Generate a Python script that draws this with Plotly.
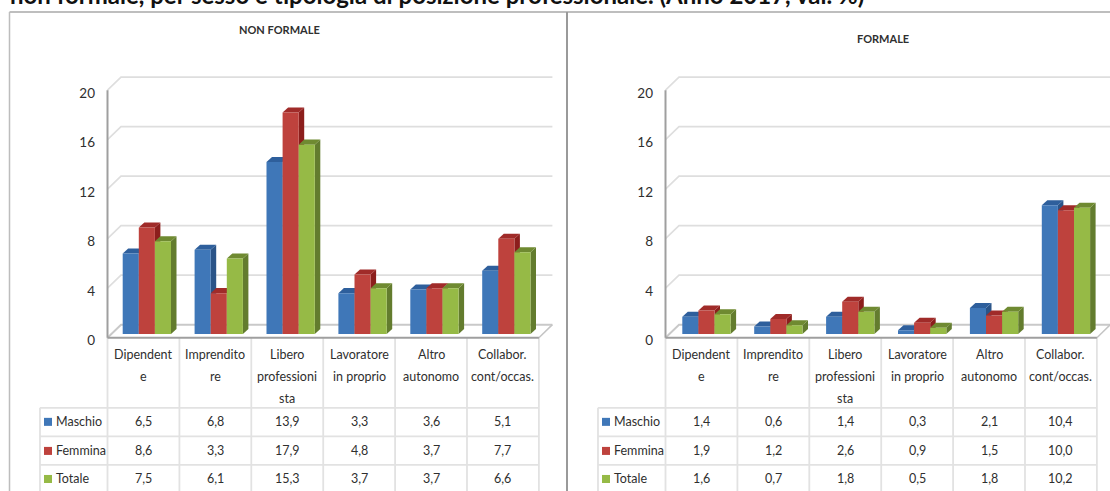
import plotly.graph_objects as go

heading = "non formale, per sesso e tipologia di posizione professionale. (Anno 2017, val. %)"
panel_titles = ["NON FORMALE", "FORMALE"]
category_lines = [["Dipendent", "e"], ["Imprendito", "re"], ["Libero", "professioni", "sta"],
                  ["Lavoratore", "in proprio"], ["Altro", "autonomo"], ["Collabor.", "cont/occas."]]
series_names = ["Maschio", "Femmina", "Totale"]
nonformale_maschio = [6.5, 6.8, 13.9, 3.3, 3.6, 5.1]
nonformale_femmina = [8.6, 3.3, 17.9, 4.8, 3.7, 7.7]
nonformale_totale = [7.5, 6.1, 15.3, 3.7, 3.7, 6.6]
formale_maschio = [1.4, 0.6, 1.4, 0.3, 2.1, 10.4]
formale_femmina = [1.9, 1.2, 2.6, 0.9, 1.5, 10.0]
formale_totale = [1.6, 0.7, 1.8, 0.5, 1.8, 10.2]
y_ticks = [0, 4, 8, 12, 16, 20]

W, H = 1110, 491
FIG_H = 497
FONT = "Lato"
HEAD_FONT = "Lato"
TXT = "#2f2f2f"
FRONT = ["#3F77B8", "#BE423D", "#96BA46"]
SIDE = ["#2A5488", "#8C1E1C", "#637C2E"]
TOP = ["#2E5F9C", "#A02B29", "#6F8A31"]
GRID = "#DEDEDE"
TABLE = "#E2E2E2"
AXIS = "#9F9F9F"
UNIT = 12.35      # px per value unit
COL = 71.9        # px per category
BACK_X, BACK_Y = 13.5, 13.0
BASE = 0.3        # bar plane sits slightly behind the front edge
BAR_W = 16.1 / COL
DX, DY = 5.5 / COL, 5 / UNIT
Y_FRONT0 = 337
ROWS = [421, 450, 478]
LINES = [407, 435.5, 464, 491]
LABEL_Y = [354, 376, 398]

panels = [
    dict(axis_x="xaxis", axis_y="yaxis", xr="x", yr="y", left=107.5, right=553, shift=3.4, title_x=279, title_y=29,
         series=[nonformale_maschio, nonformale_femmina, nonformale_totale]),
    dict(axis_x="xaxis2", axis_y="yaxis2", xr="x2", yr="y2", left=665.5, right=1110, shift=5.0, title_x=883, title_y=38,
         series=[formale_maschio, formale_femmina, formale_totale]),
]

fig = go.Figure()
shapes, annotations = [], []


def pline(x0, y0, x1, y1, color=TABLE, width=1.8):
    shapes.append(dict(type="line", xref="paper", yref="paper", x0=x0 / W, x1=x1 / W,
                       y0=1 - y0 / H, y1=1 - y1 / H, line=dict(color=color, width=width), layer="below"))


def text(x, y, s, size=12.5, anchor="center", bold=False):
    annotations.append(dict(xref="paper", yref="paper", x=x / W, y=1 - y / H, text=f"<b>{s}</b>" if bold else s,
                            showarrow=False, xanchor=anchor, yanchor="middle",
                            font=dict(family=FONT, size=size, color=TXT), borderpad=0))


layout = {}
for p in panels:
    left = p["left"]
    n = len(category_lines)
    front_right = left + n * COL
    center0 = left + COL / 2 + p["shift"]
    pad_l = 2.5
    x_lo = (left - pad_l - center0) / COL
    x_hi = (p["right"] - center0) / COL
    y_lo = -5 / UNIT
    y_hi = (Y_FRONT0 - 70) / UNIT
    layout[p["axis_x"]] = dict(domain=[(left - pad_l) / W, p["right"] / W], range=[x_lo, x_hi],
                               showgrid=False, zeroline=False, showticklabels=False, ticks="", fixedrange=True)
    layout[p["axis_y"]] = dict(domain=[1 - (Y_FRONT0 + 5) / H, 1 - 70 / H], range=[y_lo, y_hi],
                               anchor=p["xr"], tickvals=[v - 0.22 for v in y_ticks], ticktext=[str(v) for v in y_ticks],
                               ticks="", ticklabelstandoff=9,
                               showgrid=False, zeroline=False, fixedrange=True,
                               tickfont=dict(family=FONT, size=13.5, color=TXT))
    layout[p["axis_x"]]["anchor"] = p["yr"]

    # back wall gridlines and left wall slants, in axis coordinates
    bx = BACK_X / COL
    by = BACK_Y / UNIT
    xf0 = (left - center0) / COL
    xf1 = (front_right - center0) / COL
    for v in y_ticks:
        shapes.append(dict(type="path", xref=p["xr"], yref=p["yr"], layer="below",
                           path=f"M{xf0},{v} L{xf0 + bx},{v + by} L{xf1 + bx},{v + by}",
                           line=dict(color="#C9C9C9" if v == 0 else GRID, width=2 if v == 0 else 1.6)))
    shapes.append(dict(type="line", xref=p["xr"], yref=p["yr"], layer="below", x0=xf1, y0=0, x1=xf1 + bx, y1=by,
                       line=dict(color="#C4C4C4", width=1.5)))
    shapes.append(dict(type="line", xref=p["xr"], yref=p["yr"], layer="below", x0=xf0, y0=0, x1=xf0, y1=20,
                       line=dict(color=AXIS, width=2)))
    shapes.append(dict(type="line", xref=p["xr"], yref=p["yr"], layer="below", x0=xf0, y0=0, x1=xf1, y1=0,
                       line=dict(color=AXIS, width=2)))

    # bars and their depth faces
    for k, vals in enumerate(p["series"]):
        off = (k - 1.5) * BAR_W
        fig.add_trace(go.Bar(x=list(range(n)), y=vals, base=BASE, width=BAR_W, offset=off, name=series_names[k],
                             marker=dict(color=FRONT[k], line=dict(width=0)), xaxis=p["xr"], yaxis=p["yr"],
                             showlegend=False))
        for i, v in enumerate(vals):
            x0 = i + off
            x1 = x0 + BAR_W
            yt = v + BASE
            shapes.append(dict(type="path", xref=p["xr"], yref=p["yr"], layer="below", line=dict(width=0),
                               fillcolor=SIDE[k],
                               path=f"M{x1},{BASE} L{x1 + DX},{BASE + DY} L{x1 + DX},{yt + DY} L{x1},{yt} Z"))
            shapes.append(dict(type="path", xref=p["xr"], yref=p["yr"], layer="below", line=dict(width=0),
                               fillcolor=TOP[k],
                               path=f"M{x0},{yt} L{x0 + DX},{yt + DY} L{x1 + DX},{yt + DY} L{x1},{yt} Z"))

    # data table
    leg_left = left - 67.5
    for i in range(n + 1):
        xl = left + i * COL
        pline(xl, Y_FRONT0, xl, LINES[-1])
    pline(leg_left, LINES[0], leg_left, LINES[-1])
    for yl in LINES[:3]:
        pline(leg_left, yl, front_right, yl)
    for i, lines in enumerate(category_lines):
        xc = left + (i + 0.5) * COL
        for j, line in enumerate(lines):
            text(xc, LABEL_Y[j], line)
    for k, name in enumerate(series_names):
        shapes.append(dict(type="rect", xref="paper", yref="paper", layer="above", line=dict(width=0),
                           fillcolor=FRONT[k], x0=(leg_left + 4) / W, x1=(leg_left + 12) / W,
                           y0=1 - (ROWS[k] + 4) / H, y1=1 - (ROWS[k] - 4) / H))
        text(leg_left + 15, ROWS[k], name, anchor="left")
        for i, v in enumerate(p["series"][k]):
            text(left + (i + 0.5) * COL, ROWS[k], f"{v:.1f}".replace(".", ","))
    text(p["title_x"], p["title_y"], panel_titles[panels.index(p)], size=11, bold=True)

# outer frame
pline(9.5, 12, 1110, 12, color="#A8A8A8", width=1.5)
pline(9.5, 12, 9.5, H, color="#BDBDBD", width=1.5)
pline(567, 12, 567, H, color="#9A9A9A", width=2)
annotations.append(dict(xref="paper", yref="paper", x=8 / W, y=1 + 5 / H, text=f"<b>{heading}</b>", showarrow=False,
                        xanchor="left", yanchor="middle", font=dict(family=HEAD_FONT, size=24, color="#111111")))

fig.update_layout(width=W, height=FIG_H, margin=dict(l=0, r=0, t=0, b=0), paper_bgcolor="white", plot_bgcolor="rgba(0,0,0,0)",
                  barmode="overlay", shapes=shapes, annotations=annotations, **layout)
fig.write_html("out.html", post_script="document.body.style.margin='0';", config=dict(displayModeBar=False))
